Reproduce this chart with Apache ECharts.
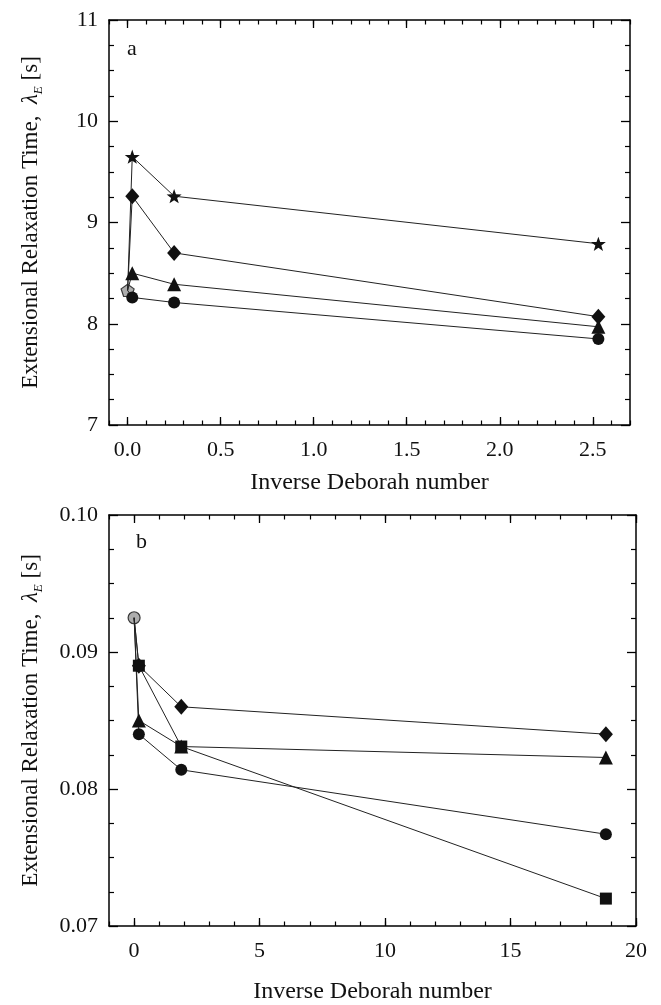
<!DOCTYPE html>
<html>
<head>
<meta charset="utf-8">
<script src="https://cdn.jsdelivr.net/npm/echarts@6/dist/echarts.min.js"></script>
<style>
  html, body { margin: 0; padding: 0; background: #fff; }
  #chart { width: 661px; height: 1005px; }
</style>
</head>
<body>
<div id="chart"></div>
<script>
// ---- Panel (a) ----
var xA = [0.025, 0.25, 2.53];
var startA = [0, 8.33];               // common starting point (grey pentagon)
var starA = [9.65, 9.26, 8.79];
var diamondA = [9.26, 8.70, 8.07];
var triangleA = [8.50, 8.39, 7.97];
var circleA = [8.26, 8.21, 7.85];
var xTicksA = [0, 0.5, 1.0, 1.5, 2.0, 2.5];

// ---- Panel (b) ----
var xB = [0.19, 1.88, 18.8];
var startB = [0, 0.0925];             // common starting point (grey circle)
var diamondB = [0.089, 0.086, 0.084];
var squareB = [0.089, 0.0831, 0.072];
var triangleB = [0.085, 0.0831, 0.0823];
var circleB = [0.084, 0.0814, 0.0767];
var xTicksB = [0, 5, 10, 15, 20];

var FONT = '"Liberation Serif", "DejaVu Serif", serif';
var INK = '#111';
var STAR = 'path://M0,-10 L2.35,-3.24 L9.51,-3.09 L3.8,1.24 L5.88,8.09 L0,4.1 L-5.88,8.09 L-3.8,1.24 L-9.51,-3.09 L-2.35,-3.24 Z';
var PENTAGON = 'path://M0,-10 L9.51,-3.09 L5.88,8.09 L-5.88,8.09 L-9.51,-3.09 Z';

var yName = 'Extensional Relaxation Time,  {i|λ}{sub|E} [s]';
var yNameStyle = {
  fontFamily: FONT, fontSize: 23, color: INK, lineHeight: 28,
  rich: {
    i: { fontFamily: FONT, fontSize: 23, fontStyle: 'italic', color: INK, lineHeight: 28 },
    sub: { fontFamily: FONT, fontSize: 13, fontStyle: 'italic', color: INK, verticalAlign: 'bottom', lineHeight: 28 }
  }
};

function axisLineStyle(show) {
  return { show: show, onZero: false, lineStyle: { color: '#000', width: 1.5 } };
}

// major ticks + labels on a horizontal edge
function xMajor(grid, pos, min, max, vals, labels, fmt, nameGap) {
  return {
    type: 'value', gridIndex: grid, position: pos, min: min, max: max,
    axisLine: axisLineStyle(true),
    axisTick: { show: true, inside: true, length: 8, customValues: vals, lineStyle: { color: '#000', width: 1.3 } },
    axisLabel: { show: labels, customValues: vals, formatter: fmt, margin: 14,
                 fontFamily: FONT, fontSize: 22, color: INK },
    splitLine: { show: false },
    name: labels ? 'Inverse Deborah number' : '',
    nameLocation: 'middle', nameGap: nameGap,
    nameTextStyle: { fontFamily: FONT, fontSize: 24, color: INK }
  };
}
// minor ticks on a horizontal edge
function xMinor(grid, pos, min, max, step) {
  return {
    type: 'value', gridIndex: grid, position: pos, min: min, max: max, interval: step,
    axisLine: { show: false },
    axisTick: { show: true, inside: true, length: 4.5, lineStyle: { color: '#000', width: 1.2 } },
    axisLabel: { show: false },
    splitLine: { show: false }
  };
}
function yAxis(grid, pos, min, max, step, labels, fmt) {
  return {
    type: 'value', gridIndex: grid, position: pos, min: min, max: max, interval: step,
    axisLine: axisLineStyle(true),
    axisTick: { show: true, inside: true, length: 9, lineStyle: { color: '#000', width: 1.3 } },
    minorTick: { show: true, splitNumber: 4, length: 5, lineStyle: { color: '#000', width: 1.2 } },
    axisLabel: { show: labels, formatter: fmt, margin: 11, fontFamily: FONT, fontSize: 22, color: INK },
    splitLine: { show: false }, minorSplitLine: { show: false },
    name: labels ? yName : '', nameLocation: 'middle', nameRotate: 90, nameGap: 64,
    nameTextStyle: yNameStyle
  };
}

function series(xi, yi, xs, ys, start, symbol, size) {
  var data = [{ value: start, symbol: 'none' }];
  for (var i = 0; i < xs.length; i++) data.push([xs[i], ys[i]]);
  return {
    type: 'line', xAxisIndex: xi, yAxisIndex: yi, data: data,
    symbol: symbol, symbolSize: size, symbolKeepAspect: true, showSymbol: true,
    lineStyle: { color: '#222', width: 1 },
    itemStyle: { color: INK, borderWidth: 0 },
    z: 3, silent: true, animation: false
  };
}
function startPoint(xi, yi, p, symbol, size) {
  return {
    type: 'scatter', xAxisIndex: xi, yAxisIndex: yi, data: [p],
    symbol: symbol, symbolSize: size, symbolKeepAspect: true,
    itemStyle: { color: '#999', borderColor: '#111', borderWidth: 1.2 },
    z: 2, silent: true, animation: false
  };
}

var fmt1 = function (v) { return v.toFixed(1); };
var fmtInt = function (v) { return String(Math.round(v)); };
var fmt2 = function (v) { return v.toFixed(2); };

var option = {
  backgroundColor: '#fff',
  animation: false,
  title: [
    { text: 'a', left: 122, top: 33, textStyle: { fontFamily: FONT, fontSize: 22, fontWeight: 'normal', color: INK } },
    { text: 'b', left: 131, top: 526, textStyle: { fontFamily: FONT, fontSize: 22, fontWeight: 'normal', color: INK } }
  ],
  grid: [
    { left: 109, top: 20, width: 521, height: 405 },
    { left: 109, top: 515, width: 527, height: 415 }
  ],
  xAxis: [
    xMajor(0, 'bottom', -0.1, 2.7, xTicksA, true, fmt1, 46),
    xMinor(0, 'bottom', -0.1, 2.7, 0.1),
    xMajor(0, 'top', -0.1, 2.7, xTicksA, false, fmt1, 0),
    xMinor(0, 'top', -0.1, 2.7, 0.1),
    xMajor(1, 'bottom', -1, 20, xTicksB, true, fmtInt, 54),
    xMinor(1, 'bottom', -1, 20, 1),
    xMajor(1, 'top', -1, 20, xTicksB, false, fmtInt, 0),
    xMinor(1, 'top', -1, 20, 1)
  ],
  yAxis: [
    yAxis(0, 'left', 7, 11, 1, true, fmtInt),
    yAxis(0, 'right', 7, 11, 1, false, fmtInt),
    yAxis(1, 'left', 0.07, 0.10, 0.01, true, fmt2),
    yAxis(1, 'right', 0.07, 0.10, 0.01, false, fmt2)
  ],
  series: [
    startPoint(0, 0, startA, PENTAGON, 13),
    series(0, 0, xA, circleA, startA, 'circle', 12),
    series(0, 0, xA, triangleA, startA, 'triangle', 14),
    series(0, 0, xA, diamondA, startA, 'diamond', [14, 16]),
    series(0, 0, xA, starA, startA, STAR, 15),

    startPoint(4, 2, startB, 'circle', 12),
    series(4, 2, xB, circleB, startB, 'circle', 12),
    series(4, 2, xB, triangleB, startB, 'triangle', 14),
    series(4, 2, xB, squareB, startB, 'rect', 12),
    series(4, 2, xB, diamondB, startB, 'diamond', [14, 16])
  ]
};

var chart = echarts.init(document.getElementById('chart'), null, { renderer: 'canvas' });
chart.setOption(option);
</script>
</body>
</html>
